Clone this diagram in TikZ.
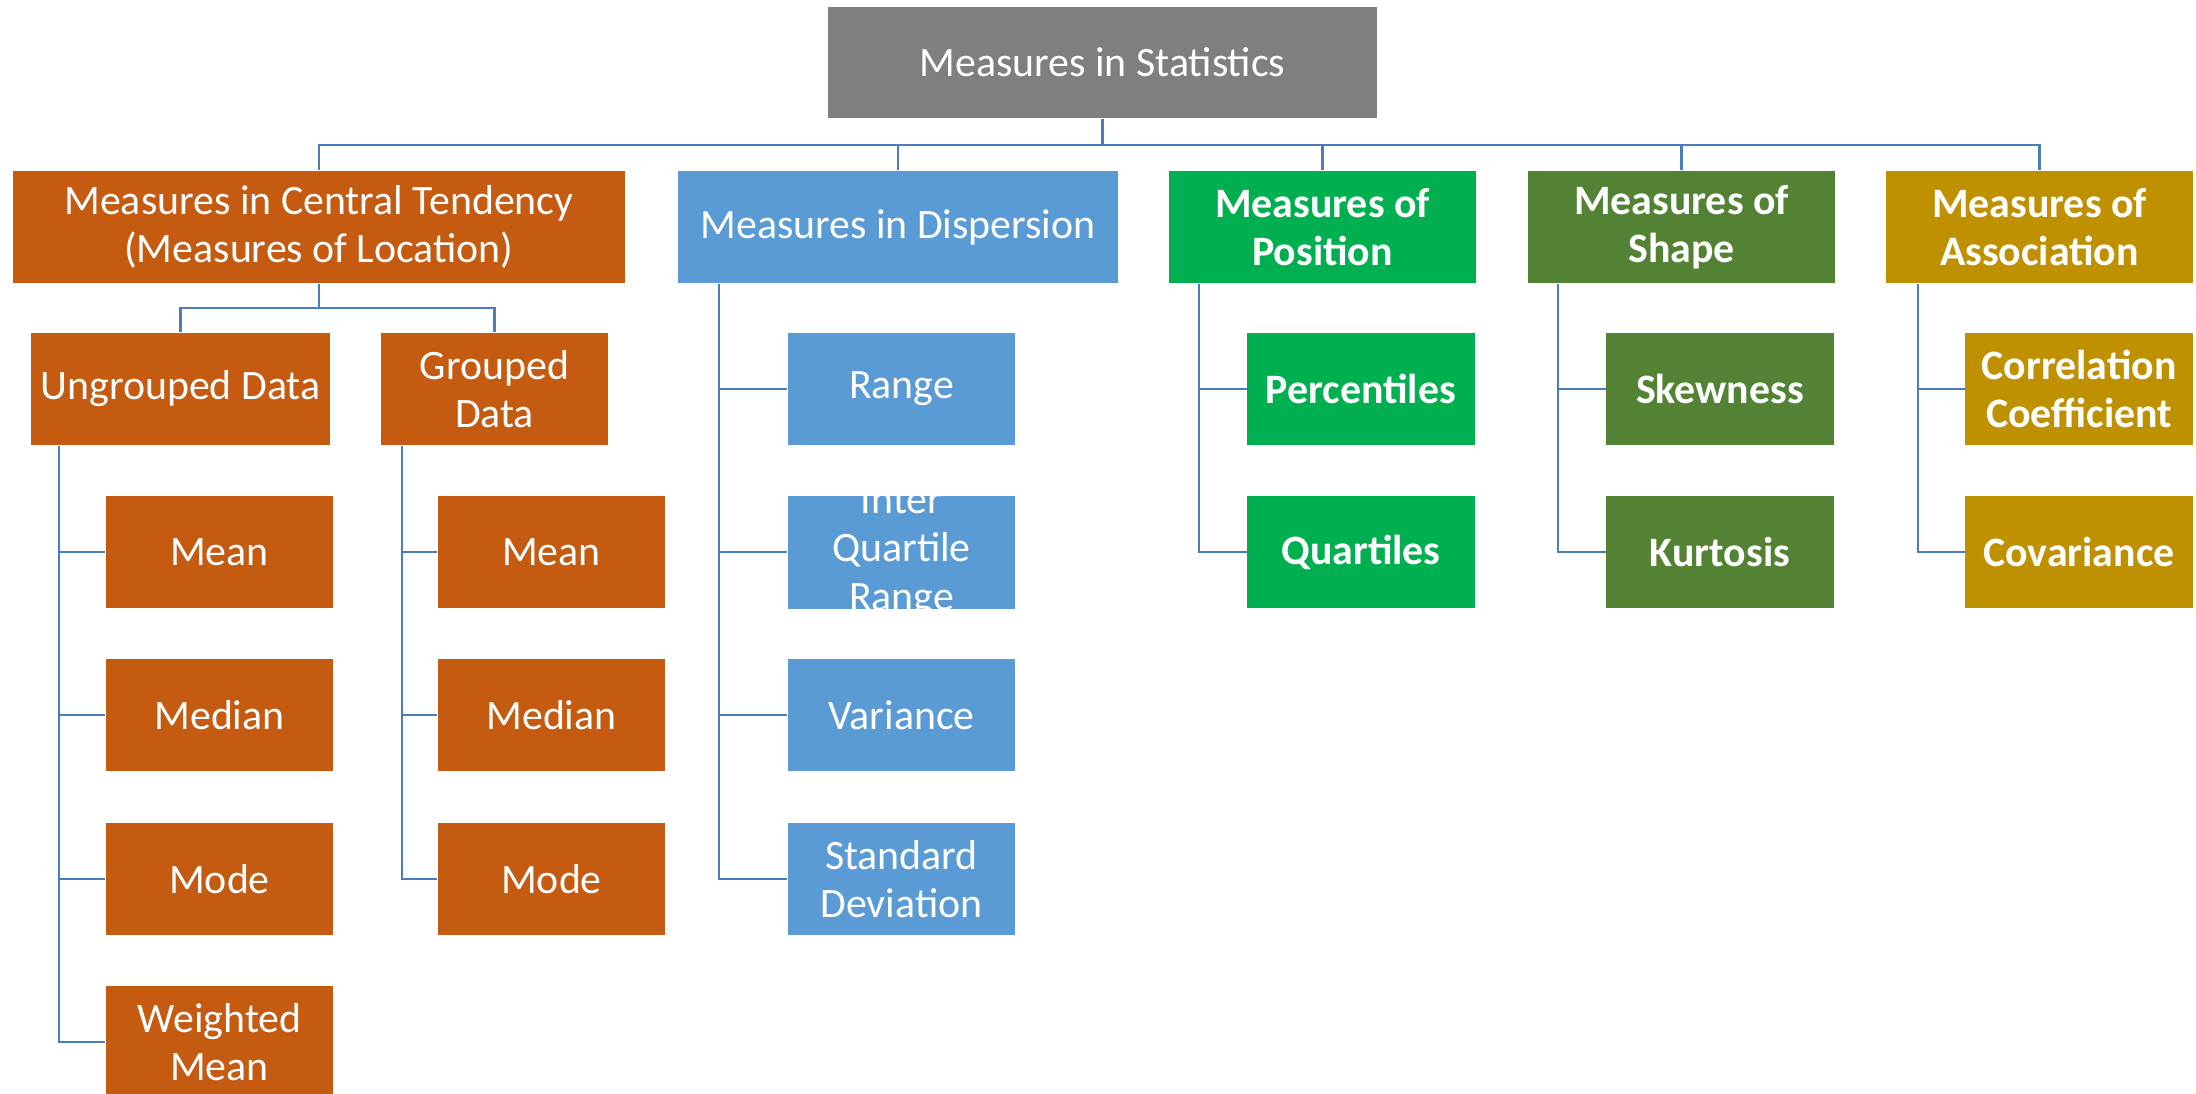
\documentclass[tikz,border=0pt]{standalone}
\usepackage{fontspec}
\setmainfont{Carlito}
\begin{document}
\definecolor{cgray}{RGB}{127,127,127}
\definecolor{corange}{RGB}{197,90,17}
\definecolor{cblue}{RGB}{91,155,213}
\definecolor{cgreen}{RGB}{0,176,80}
\definecolor{colive}{RGB}{84,130,53}
\definecolor{cgold}{RGB}{191,144,0}
\definecolor{cline}{RGB}{74,126,187}
\begin{tikzpicture}[x=0.01cm,y=-0.01cm,
  box/.style={inner sep=0pt, align=center, text=white,
    font=\fontsize{11.9}{13.7}\selectfont, minimum height=1.12cm},
  boldbox/.style={box, font=\fontsize{11.9}{13.7}\selectfont\bfseries},
  conn/.style={draw=cline, line width=0.6pt},
  w612/.style={minimum width=6.12cm},
  w549/.style={minimum width=5.49cm},
  w440/.style={minimum width=4.40cm},
  w307/.style={minimum width=3.07cm},
  w299/.style={minimum width=2.99cm},
  w227/.style={minimum width=2.27cm}]
\clip (0,0) rectangle (2196,1094);
\useasboundingbox (0,0) rectangle (2196,1094);

% root
\node[box, w549, fill=cgray, minimum height=1.11cm] (root) at (1102.5,62.5) {Measures in Statistics};

% first level
\node[box, w612, fill=corange] (ct) at (319,227) {Measures in Central Tendency\\(Measures of Location)};
\node[box, w440, fill=cblue] (disp) at (898,227) {Measures in Dispersion};
\node[boldbox, w307, fill=cgreen] (pos) at (1322.5,227) {Measures of\\Position};
\node[boldbox, w307, fill=colive] (shape) at (1681.5,227) {Measures of\\Shape};
\node[boldbox, w307, fill=cgold] (assoc) at (2039.5,227) {Measures of\\Association};

% second level
\node[box, w299, fill=corange] (ung) at (180.5,389) {Ungrouped Data};
\node[box, w227, fill=corange] (grp) at (494.5,389) {Grouped\\Data};
\node[box, w227, fill=cblue] (range) at (901.5,389) {Range};
\begin{scope}
  \clip (788,496) rectangle (1015,608);
  \node[box, w227, fill=cblue] (iqr) at (901.5,552) {Inter\\Quartile\\Range};
\end{scope}
\node[box, w227, fill=cblue] (var) at (901.5,715) {Variance};
\node[box, w227, fill=cblue] (sd) at (901.5,879) {Standard\\Deviation};
\node[boldbox, w227, fill=cgreen] (pct) at (1361,389) {Percentiles};
\node[boldbox, w227, fill=cgreen] (qrt) at (1361,552) {Quartiles};
\node[boldbox, w227, fill=colive] (skew) at (1720,389) {Skewness};
\node[boldbox, w227, fill=colive] (kurt) at (1720,552) {Kurtosis};
\node[boldbox, w227, fill=cgold] (corr) at (2079,389) {Correlation\\Coefficient};
\node[boldbox, w227, fill=cgold] (cov) at (2079,552) {Covariance};

% third level
\node[box, w227, fill=corange] (um1) at (219.5,552) {Mean};
\node[box, w227, fill=corange] (um2) at (219.5,715) {Median};
\node[box, w227, fill=corange] (um3) at (219.5,879) {Mode};
\node[box, w227, fill=corange] (um4) at (219.5,1042) {Weighted\\Mean};
\node[box, w227, fill=corange] (gm1) at (551.5,552) {Mean};
\node[box, w227, fill=corange] (gm2) at (551.5,715) {Median};
\node[box, w227, fill=corange] (gm3) at (551.5,879) {Mode};

% bus lines
\coordinate (bus) at (0,145);
\coordinate (sub) at (0,308);
\foreach \c in {ct,disp,pos,shape,assoc}
  \draw[conn] (root.south) -- (root.south |- bus) -| (\c.north);
\foreach \c in {ung,grp}
  \draw[conn] (ct.south) -- (ct.south |- sub) -| (\c.north);

% spines with side branches
\draw[conn] ([xshift=0.29cm]ung.south west) |- (um4.west);
\foreach \c in {um1,um2,um3}
  \draw[conn] ([xshift=0.29cm]ung.south west |- \c.west) -- (\c.west);
\draw[conn] ([xshift=0.22cm]grp.south west) |- (gm3.west);
\foreach \c in {gm1,gm2}
  \draw[conn] ([xshift=0.22cm]grp.south west |- \c.west) -- (\c.west);
\draw[conn] ([xshift=0.42cm]disp.south west) |- (sd.west);
\foreach \c in {range,iqr,var}
  \draw[conn] ([xshift=0.42cm]disp.south west |- \c.west) -- (\c.west);
\draw[conn] ([xshift=0.31cm]pos.south west) |- (qrt.west);
\draw[conn] ([xshift=0.31cm]pos.south west |- pct.west) -- (pct.west);
\draw[conn] ([xshift=0.31cm]shape.south west) |- (kurt.west);
\draw[conn] ([xshift=0.31cm]shape.south west |- skew.west) -- (skew.west);
\draw[conn] ([xshift=0.33cm]assoc.south west) |- (cov.west);
\draw[conn] ([xshift=0.33cm]assoc.south west |- corr.west) -- (corr.west);
\end{tikzpicture}
\end{document}
